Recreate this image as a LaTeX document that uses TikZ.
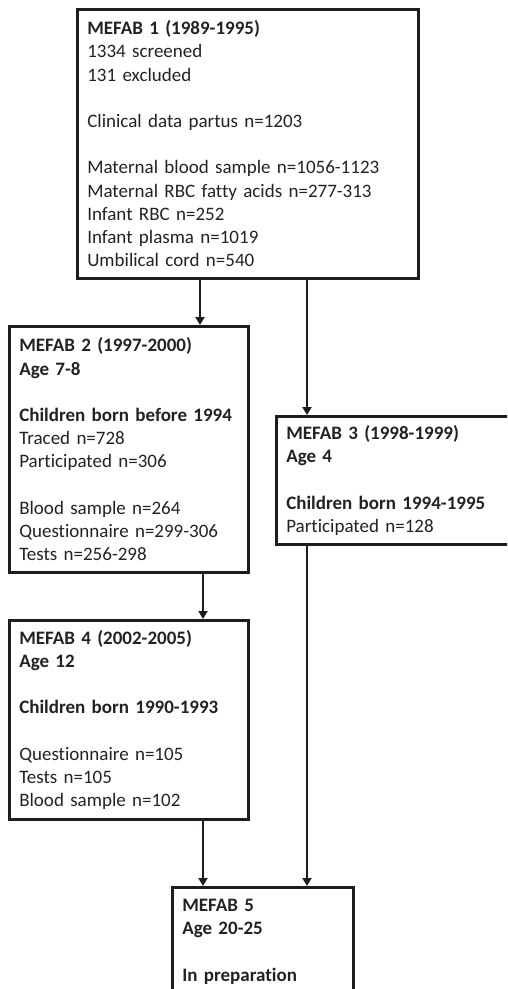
\documentclass[tikz,border=0pt]{standalone}
\usepackage{fontspec}
\setmainfont{Carlito}[Ligatures={NoCommon}]
\usetikzlibrary{arrows.meta, positioning}
\definecolor{LineDark}{RGB}{30,28,28}
\definecolor{TextDark}{RGB}{34,34,34}

\begin{document}
\begin{tikzpicture}[x=1pt, y=-1pt,
  box/.style={
    rectangle, draw=LineDark, line width=2.6pt,
    anchor=north west, inner xsep=10pt, inner ysep=0pt,
    align=left, text=TextDark,
    font=\fontsize{19}{23.2}\selectfont
  },
  arr/.style={-{Triangle[length=8pt, width=9pt]}, line width=2.3pt, color=LineDark}
]
  \useasboundingbox (0,0) rectangle (507,989);
  \clip (0,0) rectangle (507,989);

  \node[box, text width=321pt, minimum height=269pt] (m1) at (76,8) {%
    \textbf{MEFAB 1 (1989-1995)}\\ 1334 screened\\ 131 excluded\\[23.2pt]
    Clinical data partus n=1203\\[23.2pt]
    Maternal blood sample n=1056-1123\\ Maternal RBC fatty acids n=277-313\\
    Infant RBC n=252\\ Infant plasma n=1019\\ Umbilical cord n=540};
  \node[box, text width=219pt, minimum height=246pt] (m2) at (8,325) {%
    \textbf{MEFAB 2 (1997-2000)}\\ \textbf{Age 7-8}\\[23.2pt]
    \textbf{Children born before 1994}\\ Traced n=728\\ Participated n=306\\[23.2pt]
    Blood sample n=264\\ Questionnaire n=299-306\\ Tests n=256-298};
  \node[box, text width=230pt, minimum height=128pt] (m3) at (275,415) {%
    \textbf{MEFAB 3 (1998-1999)}\\ \textbf{Age 4}\\[23.2pt]
    \textbf{Children born 1994-1995}\\ Participated n=128};
  \node[box, text width=219pt, minimum height=199pt] (m4) at (8,619) {%
    \textbf{MEFAB 4 (2002-2005)}\\ \textbf{Age 12}\\[23.2pt]
    \textbf{Children born 1990-1993}\\[23.2pt]
    Questionnaire n=105\\ Tests n=105\\ Blood sample n=102};
  \node[box, text width=161pt, inner ysep=12pt] (m5) at (171,886) {%
    \textbf{MEFAB 5}\\ \textbf{Age 20-25}\\[23.2pt]
    \textbf{In preparation}};

  % x positions of the vertical links
  \coordinate (xa) at (200,0);
  \coordinate (xb) at (203,0);
  \coordinate (xc) at (307,0);

  \draw[arr] (m1.south -| xa) -- (m2.north -| xa);
  \draw[arr] (m1.south -| xc) -- (m3.north -| xc);
  \draw[arr] (m2.south -| xb) -- (m4.north -| xb);
  \draw[arr] (m4.south -| xb) -- (m5.north -| xb);
  \draw[arr] (m3.south -| xc) -- (m5.north -| xc);
\end{tikzpicture}
\end{document}
